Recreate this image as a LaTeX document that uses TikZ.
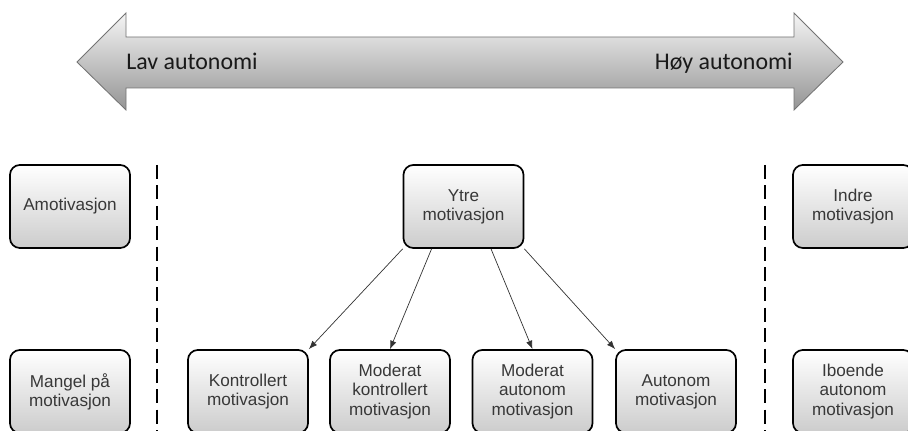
\documentclass[tikz,border=0pt]{standalone}
\usepackage{fontspec}
\setmainfont{Liberation Sans}
\newfontfamily\arrowfont{Carlito}
\usetikzlibrary{arrows.meta}

\begin{document}
\begin{tikzpicture}[x=0.025cm, y=-0.025cm,
    every node/.style={font=\fontsize{12.2}{13.6}\selectfont, text=black!78},
    box/.style={draw, line width=1.2pt, rounded corners=7pt, align=center,
        minimum width=3cm, minimum height=2.075cm, inner sep=0pt,
        top color=white, bottom color=black!20},
    sep/.style={line width=1.4pt, dash pattern=on 10pt off 4.5pt},
    link/.style={-{Latex[length=6pt,width=4.5pt]}, line width=0.5pt, draw=black!80}]
    \useasboundingbox (0,0) rectangle (908,431);

    % Autonomy axis
    \shade[top color=black!4, bottom color=black!42, draw=black!55, line width=0.6pt]
        (77,62) -- (126,13) -- (126,37) -- (794,37) -- (794,13) -- (843,62)
        -- (794,110) -- (794,88) -- (126,88) -- (126,110) -- cycle;
    \node[anchor=base west, inner sep=0pt, text=black!90, font=\arrowfont\fontsize{17}{20}\selectfont] (lav) at (126,70) {Lav autonomi};
    \node[anchor=base east, inner sep=0pt, text=black!90, font=\arrowfont\fontsize{17}{20}\selectfont] (hoy) at (793,70) {Høy autonomi};

    % Separators
    \draw[sep] (157,165) -- (157,431);
    \draw[sep] (765,165) -- (765,431);

    % Top row
    \node[box] (amot) at (70,206.5) {Amotivasjon};
    \node[box] (ytre) at (463.5,206.5) {Ytre\\motivasjon};
    \node[box] (indre) at (853,206.5) {Indre\\motivasjon};

    % Bottom row
    \node[box] (mangel) at (70,391.5) {Mangel på\\motivasjon};
    \node[box] (kontr) at (248,391.5) {Kontrollert\\motivasjon};
    \node[box] (modkontr) at (390,391.5) {Moderat\\kontrollert\\motivasjon};
    \node[box] (modaut) at (532.5,391.5) {Moderat\\autonom\\motivasjon};
    \node[box] (aut) at (676,391.5) {Autonom\\motivasjon};
    \node[box] (iboende) at (853,391.5) {Iboende\\autonom\\motivasjon};

    % Arrows
    \draw[link] (ytre.south west) -- (kontr.north east);
    \draw[link] (ytre.233) -- (modkontr.north);
    \draw[link] (ytre.-57) -- (modaut.north);
    \draw[link] (ytre.south east) -- (aut.north west);
\end{tikzpicture}
\end{document}
